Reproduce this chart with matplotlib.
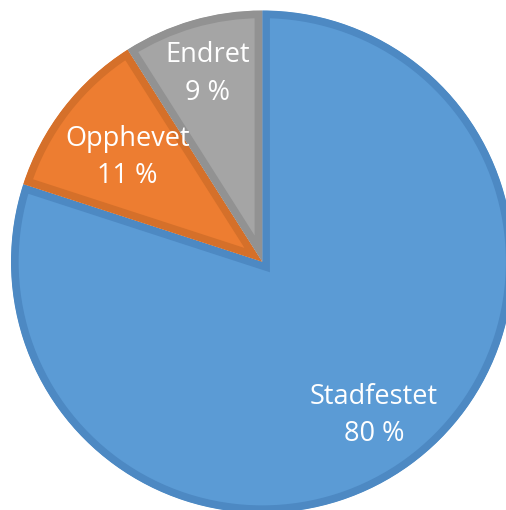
import matplotlib
matplotlib.use("Agg")
import matplotlib.pyplot as plt
import numpy as np

categories = ["Stadfestet", "Opphevet", "Endret"]
values = [80, 11, 9]
fill_colors = ["#5B9BD5", "#ED7D31", "#A5A5A5"]
edge_colors = ["#4D89C3", "#D5702A", "#929292"]
label_dist = [0.755, 0.68, 0.78]

W, H = 506, 510
cx, cy, R = 262, 262, 251
fig = plt.figure(figsize=((W + 0.5) / 100, (H + 0.5) / 100), dpi=100)
ax = fig.add_axes([0, 0, 1, 1])

wedges, _ = ax.pie(values, colors=fill_colors, startangle=90, counterclock=False,
                   radius=R, center=(0, 0), frame=True,
                   wedgeprops=dict(linewidth=11, edgecolor="none"))
ax.set_aspect("auto")
ax.set_xlim(-cx, W - cx)
ax.set_ylim(-(H - cy), cy)
ax.axis("off")

for w, ec in zip(wedges, edge_colors):
    w.set_edgecolor(ec)
    w.set_joinstyle("miter")
    w.set_clip_on(True)
    w.set_clip_path(w)

for w, name, v, d in zip(wedges, categories, values, label_dist):
    ang = np.deg2rad((w.theta1 + w.theta2) / 2)
    x, y = d * R * np.cos(ang), d * R * np.sin(ang)
    ax.text(x, y, f"{name}\n{v} %", ha="center", va="center", color="white",
            fontsize=19.5, family="Open Sans", linespacing=1.45)

fig.savefig("out.png", dpi=100)
